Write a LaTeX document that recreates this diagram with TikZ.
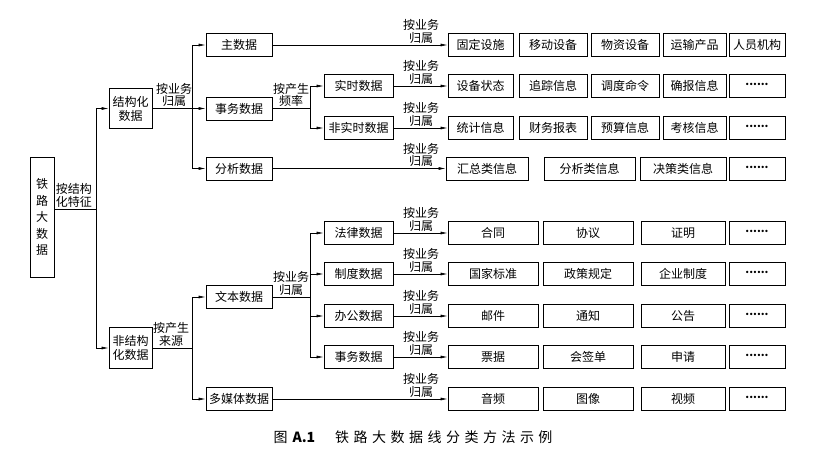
\documentclass[tikz,border=0pt]{standalone}
\usepackage{fontspec}
\newfontfamily\cjk{Noto Sans CJK SC}
\newfontfamily\capfont[LetterSpace=32]{Noto Sans CJK SC}
\usetikzlibrary{positioning, arrows.meta}

\newcommand{\more}{{\fontsize{11}{12}\selectfont\bfseries\raisebox{2.5pt}{......}}}

\begin{document}
\begin{tikzpicture}[
x=1pt, y=-1pt,
block/.style={
rectangle,
draw,
line width=0.9pt,
minimum height=23pt,
inner sep=0pt,
align=center,
font=\cjk\fontsize{12}{14}\selectfont
},
lbl/.style={
anchor=south,
inner sep=1.5pt,
align=center,
font=\cjk\fontsize{12}{12.5}\selectfont
},
arrow/.style={
-{Latex[length=7pt,width=3pt]},
line width=0.6pt
},
link/.style={
line width=0.6pt
}
]
\useasboundingbox (0,0) rectangle (820,454);

% root and first split
\node[block, minimum width=24pt, minimum height=120pt, font=\cjk\fontsize{12}{16.5}\selectfont] (root) at (42,217) {铁\\路\\大\\数\\据};
\node[block, minimum width=43pt, minimum height=40pt] (jgh) at (130.5,108.5) {结构化\\数据};
\node[block, minimum width=43pt, minimum height=41pt] (fjgh) at (130.5,348) {非结构\\化数据};

% second level
\node[block, minimum width=66pt] (zsj) at (239,45) {主数据};
\node[block, minimum width=66pt] (swsj) at (239,108.5) {事务数据};
\node[block, minimum width=66pt] (fxsj) at (239,168.5) {分析数据};
\node[block, minimum width=66pt] (wbsj) at (239,297) {文本数据};
\node[block, minimum width=66pt] (dmtsj) at (239,399) {多媒体数据};

% third level
\node[block, minimum width=69pt] (sssj) at (358.5,86) {实时数据};
\node[block, minimum width=69pt] (fsssj) at (358.5,128) {非实时数据};
\node[block, minimum width=69pt] (flsj) at (358.5,233) {法律数据};
\node[block, minimum width=69pt] (zdsj) at (358.5,274) {制度数据};
\node[block, minimum width=69pt] (bgsj) at (358.5,316) {办公数据};
\node[block, minimum width=69pt] (swsjb) at (358.5,357) {事务数据};

% leaves, structured
\node[block, minimum width=65pt] (a1) at (480.5,45) {固定设施};
\node[block, minimum width=68pt] (a2) at (553,45) {移动设备};
\node[block, minimum width=68pt] (a3) at (625,45) {物资设备};
\node[block, minimum width=63pt] (a4) at (694.5,45) {运输产品};
\node[block, minimum width=56pt] (a5) at (757,45) {人员机构};

\node[block, minimum width=65pt] (b1) at (480.5,86) {设备状态};
\node[block, minimum width=68pt] (b2) at (553,86) {追踪信息};
\node[block, minimum width=68pt] (b3) at (625,86) {调度命令};
\node[block, minimum width=63pt] (b4) at (694.5,86) {确报信息};
\node[block, minimum width=56pt] (b5) at (757,86) {\more};

\node[block, minimum width=65pt] (c1) at (480.5,128) {统计信息};
\node[block, minimum width=68pt] (c2) at (553,128) {财务报表};
\node[block, minimum width=68pt] (c3) at (625,128) {预算信息};
\node[block, minimum width=63pt] (c4) at (694.5,128) {考核信息};
\node[block, minimum width=56pt] (c5) at (757,128) {\more};

\node[block, minimum width=82pt] (d1) at (487,168.5) {汇总类信息};
\node[block, minimum width=91pt] (d2) at (589.5,168.5) {分析类信息};
\node[block, minimum width=86pt] (d3) at (683,168.5) {决策类信息};
\node[block, minimum width=56pt] (d4) at (757,168.5) {\more};

% leaves, unstructured
\node[block, minimum width=90pt] (e1) at (493,233) {合同};
\node[block, minimum width=90pt] (e2) at (588,233) {协议};
\node[block, minimum width=84pt] (e3) at (683,233) {证明};
\node[block, minimum width=56pt] (e4) at (757,233) {\more};

\node[block, minimum width=90pt] (f1) at (493,274) {国家标准};
\node[block, minimum width=90pt] (f2) at (588,274) {政策规定};
\node[block, minimum width=84pt] (f3) at (683,274) {企业制度};
\node[block, minimum width=56pt] (f4) at (757,274) {\more};

\node[block, minimum width=90pt] (g1) at (493,316) {邮件};
\node[block, minimum width=90pt] (g2) at (588,316) {通知};
\node[block, minimum width=84pt] (g3) at (683,316) {公告};
\node[block, minimum width=56pt] (g4) at (757,316) {\more};

\node[block, minimum width=90pt] (h1) at (493,357) {票据};
\node[block, minimum width=90pt] (h2) at (588,357) {会签单};
\node[block, minimum width=84pt] (h3) at (683,357) {申请};
\node[block, minimum width=56pt] (h4) at (757,357) {\more};

\node[block, minimum width=90pt] (i1) at (493,399) {音频};
\node[block, minimum width=90pt] (i2) at (588,399) {图像};
\node[block, minimum width=84pt] (i3) at (683,399) {视频};
\node[block, minimum width=56pt] (i4) at (757,399) {\more};

% branch points
\coordinate (p0) at (96,209);
\coordinate (p1) at (192,108.5);
\coordinate (p2) at (310,108.5);
\coordinate (p3) at (192,348);
\coordinate (p4) at (310,297);

\draw[link] (root.east |- p0) -- (p0);
\draw[arrow] (p0) |- (jgh);
\draw[arrow] (p0) |- (fjgh);

\draw[link] (jgh) -- (p1);
\draw[arrow] (p1) |- (zsj);
\draw[arrow] (p1) -- (swsj);
\draw[arrow] (p1) |- (fxsj);

\draw[link] (swsj) -- (p2);
\draw[arrow] (p2) |- (sssj);
\draw[arrow] (p2) |- (fsssj);

\draw[link] (fjgh) -- (p3);
\draw[arrow] (p3) |- (wbsj);
\draw[arrow] (p3) |- (dmtsj);

\draw[link] (wbsj) -- (p4);
\draw[arrow] (p4) |- (flsj);
\draw[arrow] (p4) |- (zdsj);
\draw[arrow] (p4) |- (bgsj);
\draw[arrow] (p4) |- (swsjb);

\draw[arrow] (zsj) -- (a1);
\draw[arrow] (sssj) -- (b1);
\draw[arrow] (fsssj) -- (c1);
\draw[arrow] (fxsj) -- (d1);
\draw[arrow] (flsj) -- (e1);
\draw[arrow] (zdsj) -- (f1);
\draw[arrow] (bgsj) -- (g1);
\draw[arrow] (swsjb) -- (h1);
\draw[arrow] (dmtsj) -- (i1);

% labels on the lines
\node[lbl] (l0) at (74,209) {按结构\\化特征};
\node[lbl] (l1) at (174,108.5) {按业务\\归属};
\node[lbl] (l2) at (291,108.5) {按产生\\频率};
\node[lbl] (l3) at (171,348) {按产生\\来源};
\node[lbl] (l4) at (291,297) {按业务\\归属};
\node[lbl] (la) at (421,45) {按业务\\归属};
\node[lbl] (lb) at (421,86) {按业务\\归属};
\node[lbl] (lc) at (421,128) {按业务\\归属};
\node[lbl] (ld) at (421,168.5) {按业务\\归属};
\node[lbl] (le) at (421,233) {按业务\\归属};
\node[lbl] (lf) at (421,274) {按业务\\归属};
\node[lbl] (lg) at (421,316) {按业务\\归属};
\node[lbl] (lh) at (421,357) {按业务\\归属};
\node[lbl] (li) at (421,399) {按业务\\归属};

% caption
\node[font=\cjk\fontsize{14}{16}\selectfont, anchor=west] (cap) at (270,437) {图\hspace{5pt}\textbf{A.1}\hspace{20pt}{\capfont 铁路大数据线分类方法示例}};

\end{tikzpicture}
\end{document}
